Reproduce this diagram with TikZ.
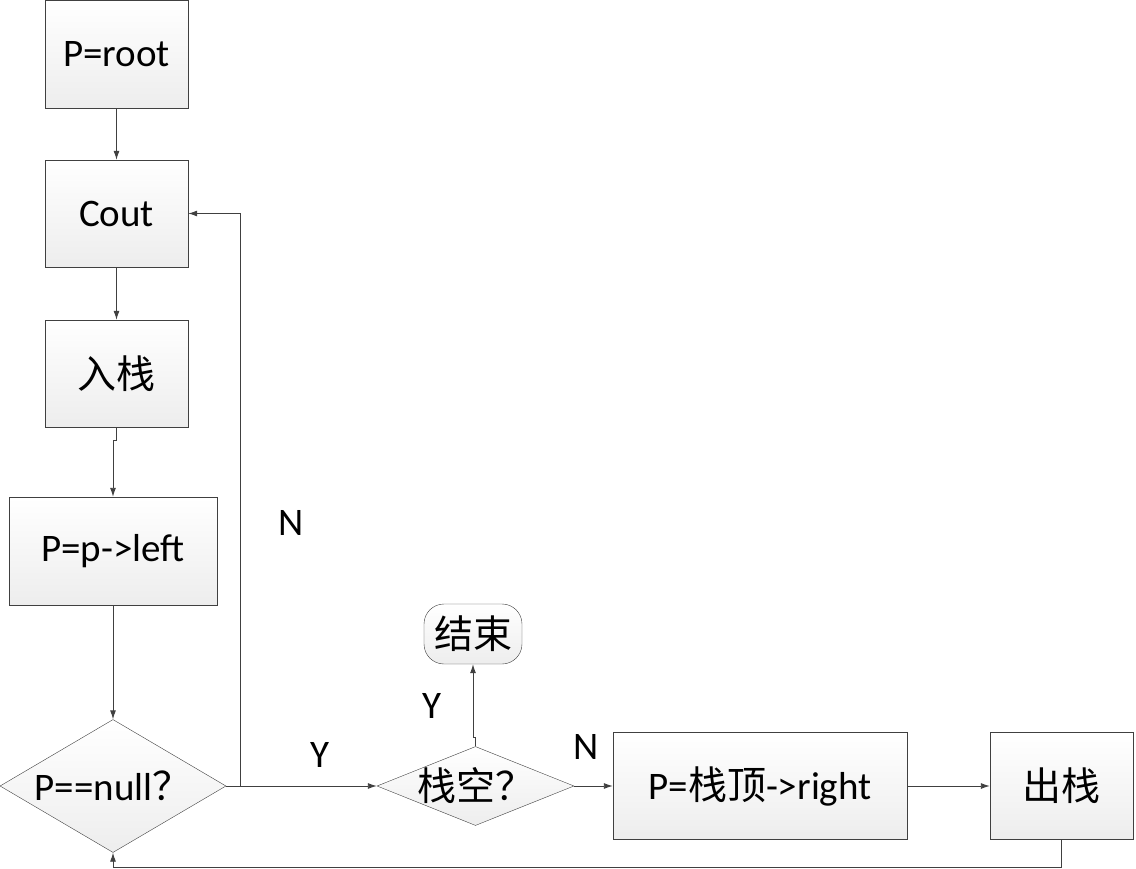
\documentclass[tikz,border=0pt]{standalone}
\usepackage{fontspec}
\setmainfont{Carlito}
\newfontfamily\cjk{Noto Sans CJK SC}
\usetikzlibrary{shapes.geometric,arrows.meta}

\begin{document}
\begin{tikzpicture}[x=1pt,y=-1pt,
  box/.style={draw=black!75, top color=white, bottom color=black!7, inner sep=0pt, font=\fontsize{39}{41}\selectfont},
  decision/.style={diamond, box},
  arr/.style={-{Latex[length=9pt,width=6pt]}, draw=black!75, line width=0.9pt},
  lbl/.style={font=\fontsize{39}{41}\selectfont}]

\useasboundingbox (0,0) rectangle (1136,869);

% left column
\node[box, minimum width=143pt, minimum height=108pt] (root) at (116.5,54) {P=root};
\node[box, minimum width=143pt, minimum height=107pt] (cout) at (116.5,213.5) {Cout};
\node[box, minimum width=143pt, minimum height=107pt] (push) at (116.5,373.5) {\cjk 入栈};
\node[box, minimum width=208pt, minimum height=108pt] (left) at (113,551) {P=p->left};
\node[decision, minimum width=226pt, minimum height=133pt] (null) at (113,786) {\makebox[0pt]{P==null{\cjk ？}}};

% bottom row
\node[decision, minimum width=197pt, minimum height=79pt] (empty) at (475.5,786) {\makebox[0pt]{\cjk 栈空？}};
\node[box, rounded corners=20pt, minimum width=98pt, minimum height=60pt] (stop) at (473,634) {\cjk 结束};
\node[box, minimum width=294pt, minimum height=107pt] (right) at (760,786) {P={\cjk 栈顶}->right};
\node[box, minimum width=143pt, minimum height=107pt] (pop) at (1061.5,786) {\cjk 出栈};

\coordinate (back) at (240,786);

\draw[arr] (root) -- (cout);
\draw[arr] (cout) -- (push);
\draw[arr] (push.south) -- ++(0,13) -| (left.north);
\draw[arr] (left) -- (null);
\draw[arr] (null.east) -- (empty.west);
\draw[arr] (back) |- (cout.east);
\draw[arr] (empty.north) -- ++(0,-9) -| (stop.south);
\draw[arr] (empty.east) -- (right.west);
\draw[arr] (right) -- (pop);
\draw[arr] (pop.south) -- ++(0,28) -| (null.south);

% labels
\node[lbl] (nback) at (291,523) {N};
\node[lbl] (ynull) at (320,755) {Y};
\node[lbl] (yend) at (432,706) {Y};
\node[lbl] (nempty) at (586,747) {N};

\end{tikzpicture}
\end{document}
